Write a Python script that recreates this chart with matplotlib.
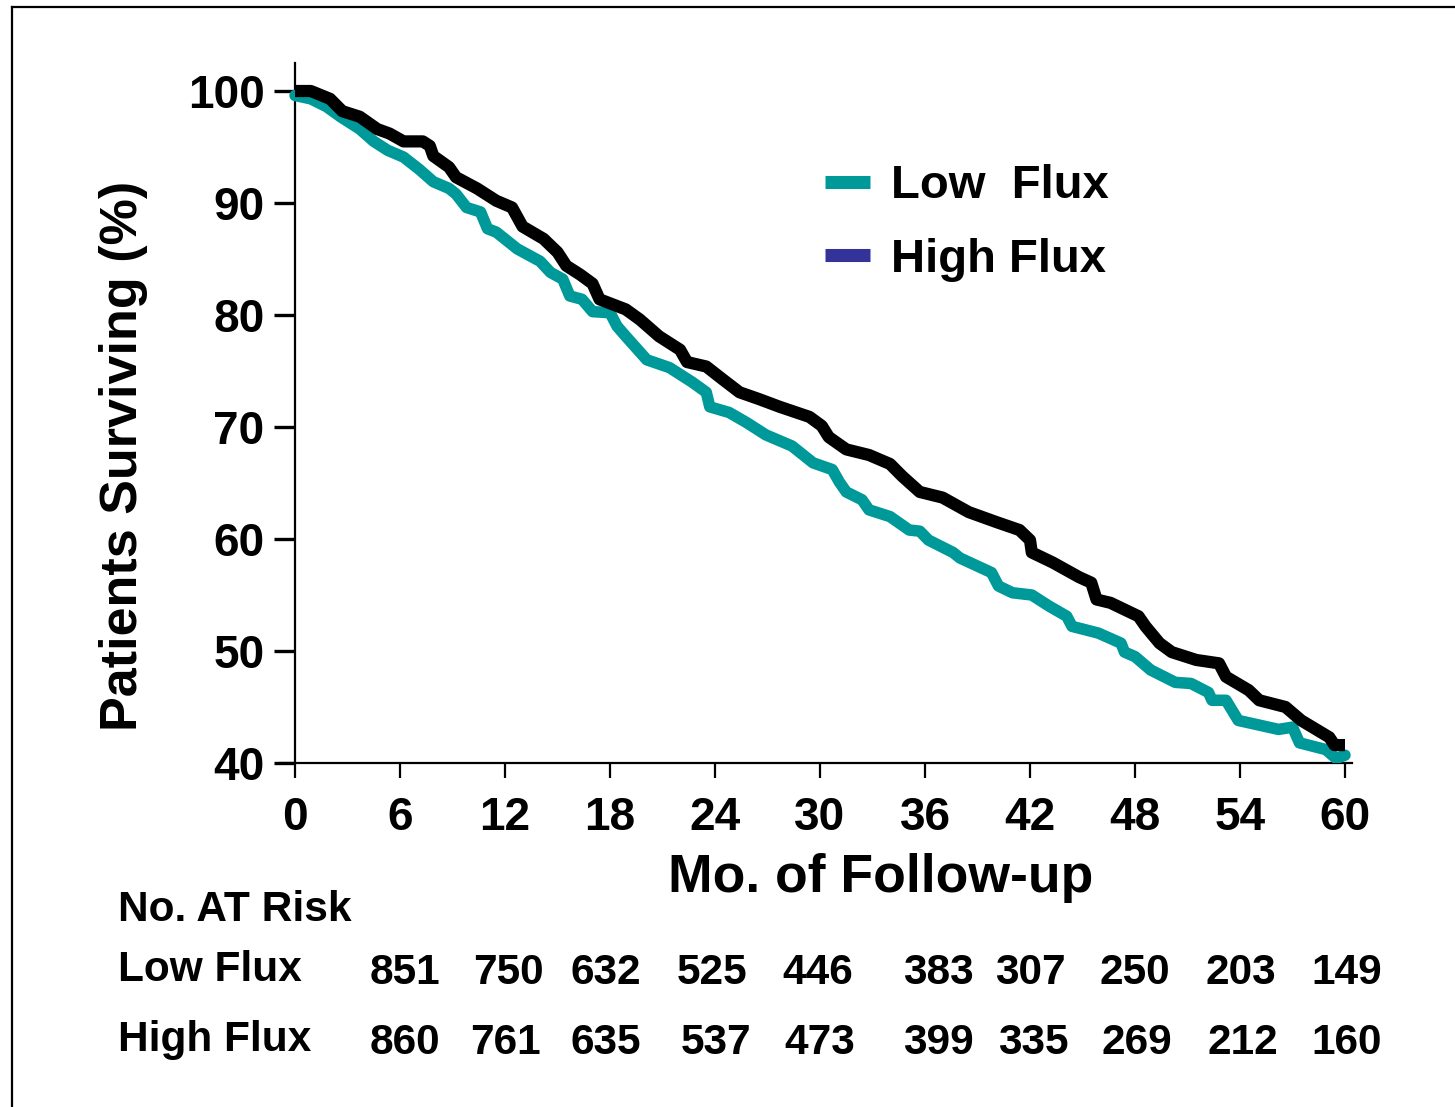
import matplotlib
matplotlib.use('Agg')
import matplotlib.pyplot as plt
from matplotlib.lines import Line2D

plt.rcParams['font.family'] = ['Liberation Sans', 'DejaVu Sans']
plt.rcParams['font.weight'] = 'bold'

# survival curves (months, % surviving)
high_t = [0, 0.9, 2.0, 2.7, 3.7, 4.7, 5.4, 6.2, 7.3, 7.7, 7.9, 8.8, 9.2, 10.4, 11.5, 12.4,
          13.0, 14.2, 15.0, 15.5, 16.3, 17.0, 17.4, 18.9, 19.7, 20.8, 22.0, 22.4, 23.5, 24.4,
          25.4, 26.5, 27.7, 29.4, 30.1, 30.5, 31.5, 32.8, 34.0, 34.7, 35.7, 37.0, 38.5, 40.1,
          41.4, 42.0, 42.1, 43.3, 44.8, 45.5, 45.8, 46.6, 48.2, 48.6, 49.4, 50.1, 51.5, 52.8,
          53.2, 54.5, 55.1, 56.6, 57.5, 59.1, 59.4, 60.0]
high_s = [100.0, 100.0, 99.3, 98.2, 97.7, 96.6, 96.2, 95.5, 95.5, 95.1, 94.2, 93.2, 92.3, 91.3, 90.2, 89.6,
          87.9, 86.8, 85.6, 84.4, 83.6, 82.8, 81.4, 80.5, 79.6, 78.1, 76.9, 75.8, 75.4, 74.3,
          73.1, 72.5, 71.8, 70.9, 70.1, 69.1, 68.0, 67.5, 66.7, 65.6, 64.2, 63.7, 62.4, 61.5,
          60.8, 59.9, 58.8, 57.9, 56.6, 56.1, 54.6, 54.3, 53.1, 52.2, 50.7, 49.9, 49.2, 48.9,
          47.7, 46.5, 45.6, 45.0, 43.8, 42.3, 41.6, 41.6]

low_t = [0, 0.9, 1.8, 2.6, 3.7, 4.5, 5.3, 6.2, 7.1, 7.9, 8.8, 9.2, 9.8, 10.6, 11.0, 11.5,
         12.7, 14.0, 14.6, 15.3, 15.7, 16.4, 17.0, 18.0, 18.4, 18.9, 20.1, 21.4, 22.7, 23.5,
         23.7, 24.8, 25.8, 26.9, 28.4, 29.6, 30.7, 31.1, 31.5, 32.4, 32.8, 34.0, 35.1, 35.7,
         36.2, 37.6, 38.0, 39.8, 40.2, 41.0, 42.1, 43.1, 44.1, 44.4, 45.9, 47.2, 47.4, 48.0,
         48.9, 50.3, 51.2, 52.2, 52.4, 53.2, 53.9, 56.2, 57.0, 57.4, 58.9, 59.5, 60.0]
low_s = [99.6, 99.3, 98.6, 97.7, 96.6, 95.5, 94.7, 94.1, 93.0, 91.9, 91.3, 90.8, 89.6, 89.2, 87.7, 87.4,
         85.9, 84.8, 83.8, 83.2, 81.7, 81.4, 80.3, 80.2, 79.0, 78.1, 76.0, 75.3, 74.0, 73.1,
         71.8, 71.3, 70.4, 69.3, 68.3, 66.8, 66.2, 65.1, 64.2, 63.5, 62.6, 62.0, 60.8, 60.7,
         59.9, 58.8, 58.3, 57.0, 55.8, 55.2, 55.0, 54.0, 53.1, 52.2, 51.6, 50.7, 49.9, 49.5,
         48.3, 47.2, 47.1, 46.3, 45.6, 45.6, 43.8, 43.0, 43.2, 41.8, 41.2, 40.4, 40.7]

xticks = [0, 6, 12, 18, 24, 30, 36, 42, 48, 54, 60]
yticks = [40, 50, 60, 70, 80, 90, 100]

low_risk = ['851', '750', '632', '525', '446', '383', '307', '250', '203', '149']
high_risk = ['860', '761', '635', '537', '473', '399', '335', '269', '212', '160']
# column centres of the at-risk table (figure pixels)
low_cols = [405, 508, 606, 712, 818, 938, 1030, 1135, 1241, 1347]
high_cols = [405, 505, 606, 716, 820, 938, 1033, 1137, 1243, 1347]

teal = '#009999'
navy = '#333399'

W, H = 1455, 1107
fig = plt.figure(figsize=(W / 100, H / 100), dpi=100)
ax = fig.add_axes([280 / W, 1 - 763 / H, (1352 - 280) / W, (763 - 63) / H])

ax.plot(low_t, low_s, color=teal, lw=8.3, solid_joinstyle='round', solid_capstyle='round', zorder=3)
ax.plot(high_t, high_s, color='black', lw=8.8, solid_joinstyle='round', solid_capstyle='butt', zorder=4)

ax.set_xlim(-0.86, 60.4)
ax.set_ylim(40, 102.5)
ax.spines['top'].set_visible(False)
ax.spines['right'].set_visible(False)
ax.spines['left'].set_position(('data', 0))
ax.spines['left'].set_linewidth(1.6)
ax.spines['bottom'].set_linewidth(1.6)
ax.set_xticks(xticks)
ax.set_yticks(yticks)
ax.tick_params(axis='y', direction='out', length=15, width=2.4, labelsize=33, pad=7)
ax.tick_params(axis='x', direction='out', length=11, width=1.6, labelsize=33, pad=13)
for lab in ax.get_xticklabels() + ax.get_yticklabels():
    lab.set_fontweight('bold')

fig.text(124 / W, 1 - 456 / H, 'Patients Surviving (%)', rotation=90, fontsize=37.5,
         fontweight='bold', ha='center', va='center')
fig.text(881 / W, 1 - 878 / H, 'Mo. of Follow-up', fontsize=38.5, fontweight='bold',
         ha='center', va='center')

handles = [Line2D([], [], color=teal, lw=9.4, solid_capstyle='butt'),
           Line2D([], [], color=navy, lw=9.4, solid_capstyle='butt')]
fig.legend(handles, ['Low  Flux', 'High Flux'], loc='center left',
           bbox_to_anchor=(825 / W, 1 - 223 / H), frameon=False,
           handlelength=0.96, handletextpad=0.43, labelspacing=0.62,
           borderpad=0, borderaxespad=0, prop={'weight': 'bold', 'size': 34})

# number at risk table
fig.text(118 / W, 1 - 910 / H, 'No. AT Risk', fontsize=30.5, fontweight='bold', va='center')
fig.text(118 / W, 1 - 970 / H, 'Low Flux', fontsize=30.5, fontweight='bold', va='center')
fig.text(118 / W, 1 - 1040 / H, 'High Flux', fontsize=30.5, fontweight='bold', va='center')
for c, n in zip(low_cols, low_risk):
    fig.text(c / W, 1 - 973 / H, n, fontsize=30.5, fontweight='bold', ha='center', va='center')
for c, n in zip(high_cols, high_risk):
    fig.text(c / W, 1 - 1043 / H, n, fontsize=30.5, fontweight='bold', ha='center', va='center')

# outer frame (left and top edges only are inside the picture)
fig.add_artist(Line2D([12 / W, 12 / W], [0, 1 - 7 / H], color='black', lw=1.6, transform=fig.transFigure))
fig.add_artist(Line2D([12 / W, 1], [1 - 7 / H, 1 - 7 / H], color='black', lw=1.6, transform=fig.transFigure))

plt.savefig('out.png', dpi=100)
